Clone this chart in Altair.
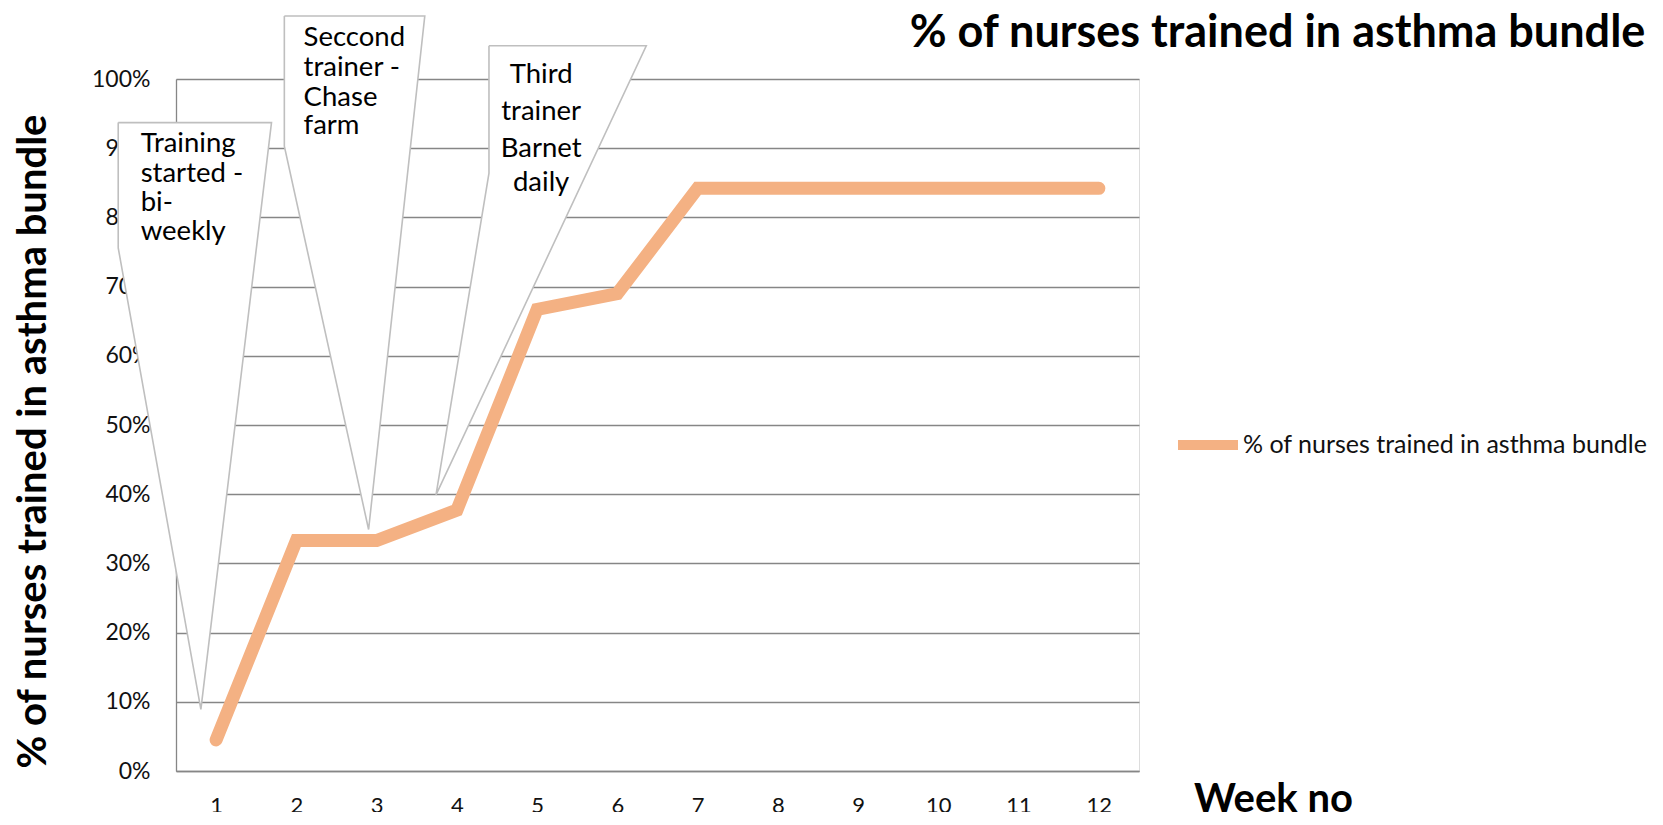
import altair as alt
import pandas as pd

# ---------------- data ----------------
weeks = [1, 2, 3, 4, 5, 6, 7, 8, 9, 10, 11, 12]
pct_trained = [4.5, 33.3, 33.3, 37.7, 66.7, 69.0, 84.2, 84.2, 84.2, 84.2, 84.2, 84.2]
series_name = "% of nurses trained in asthma bundle"
chart_title = "% of nurses trained in asthma bundle"
y_ticks = [0, 10, 20, 30, 40, 50, 60, 70, 80, 90, 100]

# callout outlines (in data units: week, percent), closed polygons
callout_id = ["c1", "c1", "c1", "c1", "c1",
              "c2", "c2", "c2", "c2", "c2",
              "c3", "c3", "c3", "c3", "c3"]
callout_week = [-0.22, 1.69, 0.81, -0.22, -0.22,
                1.85, 3.60, 2.90, 1.85, 1.85,
                4.40, 6.36, 3.74, 4.40, 4.40]
callout_pct = [93.7, 93.7, 8.9, 75.6, 93.7,
               109.1, 109.1, 34.9, 90.3, 109.1,
               104.8, 104.8, 39.9, 86.4, 104.8]
callout_idx = [0, 1, 2, 3, 4, 0, 1, 2, 3, 4, 0, 1, 2, 3, 4]

# callout texts
note_left_text = ["Training", "started -", "bi-", "weekly",
                  "Seccond", "trainer -", "Chase", "farm"]
note_left_week = [0.06, 0.06, 0.06, 0.06, 2.09, 2.09, 2.09, 2.09]
note_left_pct = [89.4, 85.1, 80.9, 76.7, 104.7, 100.5, 96.1, 92.0]

note_center_text = ["Third", "trainer", "Barnet", "daily"]
note_center_week = [5.05, 5.05, 5.05, 5.05]
note_center_pct = [99.4, 94.1, 88.8, 83.8]

# ---------------- tables ----------------
df_line = pd.DataFrame({"week": weeks, "pct": pct_trained, "series": [series_name] * len(weeks)})
df_callout = pd.DataFrame({"cid": callout_id, "week": callout_week, "pct": callout_pct, "idx": callout_idx})
df_note_l = pd.DataFrame({"week": note_left_week, "pct": note_left_pct, "txt": note_left_text})
df_note_c = pd.DataFrame({"week": note_center_week, "pct": note_center_pct, "txt": note_center_text})
df_title = pd.DataFrame({"week": [18.81], "pct": [104.67], "txt": [chart_title]})

FONT = "Lato"
GRID = "#868686"

x_enc = alt.X(
    "week:Q",
    scale=alt.Scale(domain=[0.5, 12.5], nice=False, zero=False),
    axis=alt.Axis(
        values=weeks, format="d", grid=False, ticks=False, tickSize=0,
        labelPadding=34, labelBaseline="middle", labelFont=FONT, labelFontSize=22,
        labelColor="#111111", domainColor=GRID, domainWidth=1.3,
        title="Week no", titleFont=FONT, titleFontSize=40, titleFontWeight="bold",
        titleColor="#000000", titleX=1097, titleY=40, titleAlign="center",
        titleBaseline="alphabetic", labelFlush=False,
    ),
)
y_enc = alt.Y(
    "pct:Q",
    scale=alt.Scale(domain=[0, 100], nice=False, zero=True),
    axis=alt.Axis(
        values=y_ticks, labelExpr="datum.value + '%'", grid=True, gridColor=GRID,
        gridWidth=1.3, ticks=False, tickSize=0, labelPadding=26, labelFont=FONT,
        labelFontSize=23, labelColor="#111111", domainColor=GRID, domainWidth=1.3,
        title=series_name, titleFont=FONT, titleFontSize=40, titleFontWeight="bold",
        titleColor="#000000", titleAngle=270, titleX=-131, titleY=362,
        titleAlign="center", titleBaseline="alphabetic",
    ),
)

callouts = alt.Chart(df_callout).mark_line(
    stroke="#BFBFBF", fill="white", strokeWidth=1.6, strokeJoin="miter"
).encode(x=x_enc, y=y_enc, detail="cid:N", order="idx:Q")

notes_l = alt.Chart(df_note_l).mark_text(
    align="left", baseline="alphabetic", font=FONT, fontSize=27.5, color="#000000"
).encode(x=x_enc, y=y_enc, text="txt:N")

notes_c = alt.Chart(df_note_c).mark_text(
    align="center", baseline="alphabetic", font=FONT, fontSize=27.5, color="#000000"
).encode(x=x_enc, y=y_enc, text="txt:N")

title_txt = alt.Chart(df_title).mark_text(
    align="right", baseline="alphabetic", font=FONT, fontSize=45, fontWeight="bold",
    color="#000000",
).encode(x=x_enc, y=y_enc, text="txt:N")

line = alt.Chart(df_line).mark_line(
    strokeWidth=13, strokeCap="round", strokeJoin="miter"
).encode(
    x=x_enc,
    y=y_enc,
    color=alt.Color(
        "series:N",
        scale=alt.Scale(domain=[series_name], range=["#F4B183"]),
        legend=alt.Legend(
            orient="none", legendX=990, legendY=331, title=None, padding=0,
            symbolType="stroke", symbolStrokeWidth=10, symbolSize=3600,
            symbolOffset=7,
            labelFont=FONT, labelFontSize=25, labelColor="#111111", labelOffset=0,
            labelLimit=700,
        ),
    ),
)

chart = alt.layer(line, callouts, notes_l, notes_c, title_txt).properties(
    width=963,
    height=692,
    padding={"left": 168, "top": 71, "right": 516, "bottom": 41},
    autosize=alt.AutoSizeParams(type="none"),
).configure_view(stroke=None).configure(background="white")

chart.save("out.html", embed_options={"renderer": "svg", "actions": False})
